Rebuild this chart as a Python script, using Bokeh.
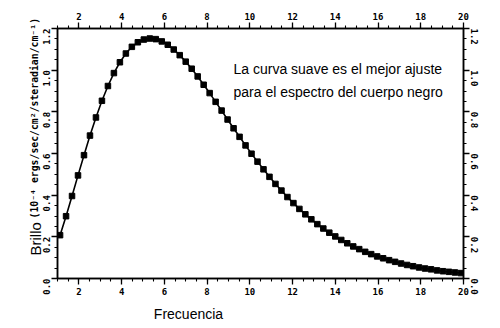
import math
from bokeh.plotting import figure
from bokeh.models import LinearAxis, FixedTicker, PrintfTickFormatter, Label, Range1d
from bokeh.embed import file_html
from bokeh.resources import INLINE

# Data
freq = [1.12, 1.40, 1.68, 1.96, 2.24, 2.52, 2.80, 3.08, 3.36, 3.64,
        3.92, 4.20, 4.48, 4.76, 5.04, 5.32, 5.60, 5.88, 6.16, 6.44,
        6.72, 7.00, 7.28, 7.56, 7.84, 8.12, 8.40, 8.68, 8.96, 9.24,
        9.52, 9.80, 10.08, 10.36, 10.64, 10.92, 11.20, 11.48, 11.76, 12.04,
        12.32, 12.60, 12.88, 13.16, 13.44, 13.72, 14.00, 14.28, 14.56, 14.84,
        15.12, 15.40, 15.68, 15.96, 16.24, 16.52, 16.80, 17.08, 17.36, 17.64,
        17.92, 18.20, 18.48, 18.76, 19.04, 19.32, 19.60, 19.88]
brillo = [0.208, 0.299, 0.396, 0.495, 0.592, 0.686, 0.773, 0.853, 0.924, 0.986,
          1.038, 1.080, 1.112, 1.134, 1.147, 1.152, 1.149, 1.138, 1.122, 1.099,
          1.072, 1.041, 1.007, 0.970, 0.930, 0.890, 0.848, 0.806, 0.763, 0.721,
          0.680, 0.639, 0.599, 0.561, 0.524, 0.488, 0.454, 0.422, 0.391, 0.362,
          0.334, 0.308, 0.284, 0.261, 0.240, 0.220, 0.202, 0.185, 0.169, 0.154,
          0.141, 0.128, 0.117, 0.106, 0.097, 0.088, 0.080, 0.072, 0.065, 0.059,
          0.053, 0.048, 0.044, 0.039, 0.035, 0.032, 0.029, 0.026]

x_major = [2, 4, 6, 8, 10, 12, 14, 16, 18, 20]
x_minor = [1.0 + 0.5 * i for i in range(39)]
y_major = [0.0, 0.2, 0.4, 0.6, 0.8, 1.0, 1.2]
y_minor = [round(0.05 * i, 2) for i in range(25)]

x_title = "Frecuencia"
y_title = "Brillo"
y_units = "(10⁻⁴ ergs/sec/cm²/steradian/cm⁻¹)"
note_lines = ["La curva suave es el mejor ajuste",
              "para el espectro del cuerpo negro"]

p = figure(width=500, height=328, x_range=Range1d(1, 20), y_range=Range1d(0, 1.2),
           output_backend="svg", toolbar_location=None,
           min_border_left=57, min_border_right=37, min_border_top=28, min_border_bottom=50)
p.xgrid.visible = False
p.ygrid.visible = False
p.outline_line_color = "black"
p.outline_line_width = 1.5
p.background_fill_color = "white"
p.border_fill_color = "white"

top = LinearAxis()
right = LinearAxis()
p.add_layout(top, "above")
p.add_layout(right, "right")


def style(ax, ticks, minor, fmt, orient, standoff):
    ax.ticker = FixedTicker(ticks=ticks, minor_ticks=minor)
    ax.formatter = PrintfTickFormatter(format=fmt)
    ax.axis_line_color = "black"
    ax.axis_line_width = 1.5
    ax.major_tick_line_color = "black"
    ax.major_tick_line_width = 1.3
    ax.minor_tick_line_color = "black"
    ax.minor_tick_line_width = 1.1
    ax.major_tick_out = 6
    ax.major_tick_in = 0
    ax.minor_tick_out = 3
    ax.minor_tick_in = 0
    ax.major_label_text_font = "DejaVu Sans Mono"
    ax.major_label_text_font_style = "bold"
    ax.major_label_text_font_size = "9px"
    ax.major_label_text_color = "black"
    ax.major_label_standoff = standoff
    ax.major_label_orientation = orient


style(p.below[0], x_major, x_minor, "%d", "horizontal", 3)
style(top, x_major, x_minor, "%d", "horizontal", 3)
style(p.left[0], y_major, y_minor, "%.1f", math.pi / 2, 5)
style(right, y_major, y_minor, "%.1f", -math.pi / 2, 5)

p.line(freq, brillo, line_color="black", line_width=1.6)
p.scatter(freq, brillo, marker="square", size=5.5, color="black")

# Titles as text placed in the side panels (canvas coordinates)
p.add_layout(Label(x=188, y=313, x_units="canvas", y_units="canvas", text=x_title,
                   text_font="Liberation Sans", text_font_size="14px",
                   text_align="center", text_baseline="alphabetic", text_color="black"), "below")
p.add_layout(Label(x=35, y=255, x_units="canvas", y_units="canvas", text=y_title,
                   angle=math.pi / 2, text_font="Liberation Sans", text_font_size="15px",
                   text_align="left", text_baseline="alphabetic", text_color="black"), "left")
p.add_layout(Label(x=34, y=218, x_units="canvas", y_units="canvas", text=y_units,
                   angle=math.pi / 2, text_font="DejaVu Sans Mono", text_font_style="bold",
                   text_font_size="9.8px",
                   text_align="left", text_baseline="alphabetic", text_color="black"), "left")
for i, line in enumerate(note_lines):
    p.add_layout(Label(x=176, y=210 - 23 * i, x_units="screen", y_units="screen", text=line,
                       text_font="Liberation Sans", text_font_size="14px",
                       text_align="left", text_baseline="alphabetic", text_color="black"))

open("out.html", "w").write(file_html(p, INLINE))
